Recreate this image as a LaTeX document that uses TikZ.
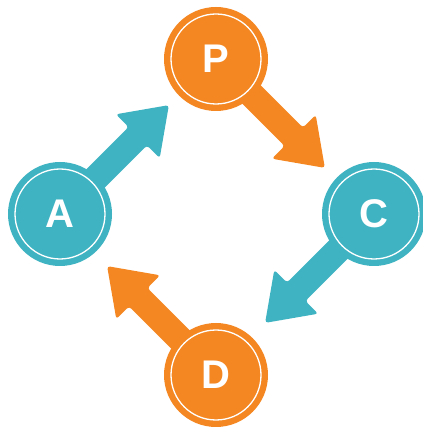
\documentclass[tikz,border=0pt]{standalone}
\usepackage{fontspec}
\setmainfont{Liberation Sans}
\usetikzlibrary{backgrounds}
\definecolor{myteal}{RGB}{63,179,194}
\definecolor{myorange}{RGB}{244,135,34}
\tikzset{
  circ/.style={circle, minimum size=104pt, inner sep=0pt, text=white,
    font=\fontsize{40}{40}\selectfont\bfseries},
  ring/.style={draw=white, line width=1.3pt},
  bigarrow/.pic={
    \fill[rounded corners=3pt] (0,-13) -- (110,-13) -- (110,-31) -- (154,0)
      -- (110,31) -- (110,13) -- (0,13) -- cycle;
  }
}
\begin{document}
\begin{tikzpicture}[x=1pt,y=1pt]
\useasboundingbox (0,0) rectangle (423,429);
\node[circ, fill=myorange] (P) at (216,370) {P};
\node[circ, fill=myteal] (A) at (60,215) {A};
\node[circ, fill=myteal] (C) at (374,215) {C};
\node[circ, fill=myorange] (D) at (216,54) {D};
\foreach \n in {P,A,C,D} { \draw[ring] (\n.center) circle (45); }
\begin{scope}[on background layer]
  \pic[fill=myteal, rotate=45] at (A.center) {bigarrow};
  \pic[fill=myorange, rotate=-45] at (P.center) {bigarrow};
  \pic[fill=myteal, rotate=-135] at (C.center) {bigarrow};
  \pic[fill=myorange, rotate=135] at (D.center) {bigarrow};
\end{scope}
\end{tikzpicture}
\end{document}
